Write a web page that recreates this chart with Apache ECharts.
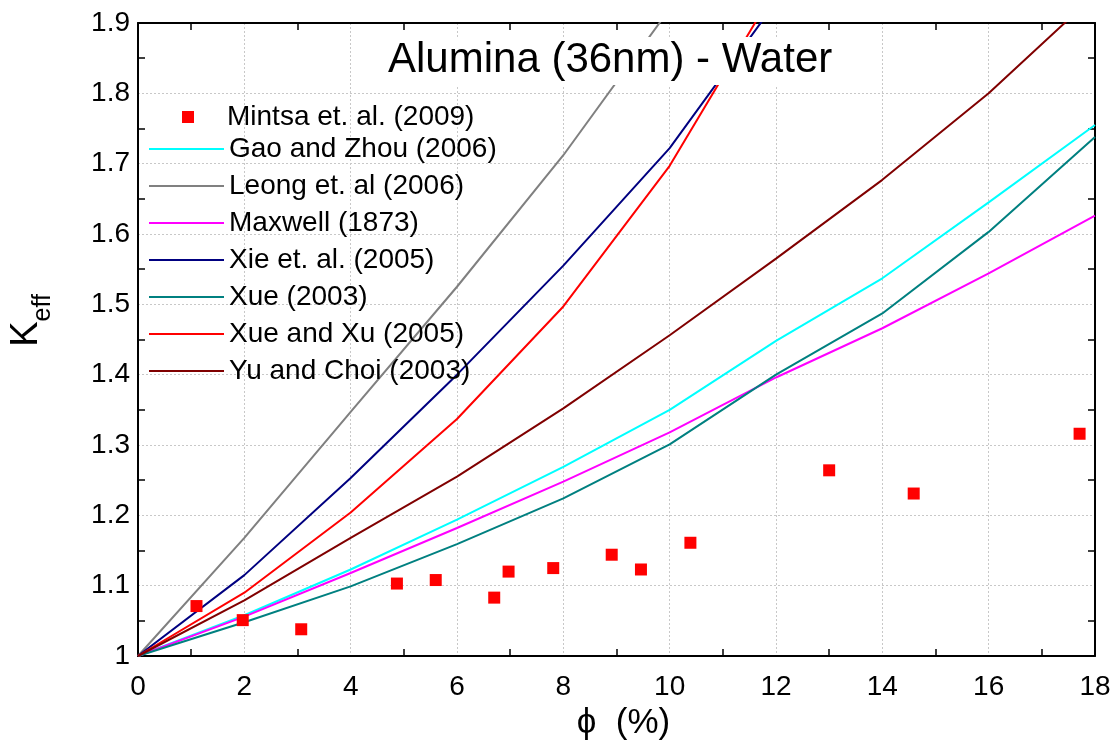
<!DOCTYPE html>
<html>

<head>
  <meta charset="utf-8">
  <title>Alumina (36nm) - Water</title>
  <script src="https://cdn.jsdelivr.net/npm/echarts@6/dist/echarts.min.js"></script>
</head>

<body style="margin:0">
  <div id="main" style="width:1120px;height:746px;"></div>
  <script type="text/javascript">
    var FONT = 'Liberation Sans, Arial, sans-serif';

    // volume fraction (%) where the model curves were evaluated
    var phi = [0, 2, 4, 6, 8, 10, 12, 14, 16, 18];

    var gaoZhou = [1, 1.058, 1.123, 1.194, 1.269, 1.35, 1.448, 1.537, 1.645, 1.755];
    var leong = [1, 1.168, 1.347, 1.525, 1.712, 1.92];
    var maxwell = [1, 1.056, 1.118, 1.182, 1.248, 1.318, 1.396, 1.466, 1.544, 1.626];
    var xie = [1, 1.115, 1.253, 1.40, 1.555, 1.722, 1.93];
    var xue = [1, 1.048, 1.099, 1.159, 1.224, 1.301, 1.40, 1.487, 1.603, 1.738];
    var xueXu = [1, 1.09, 1.204, 1.337, 1.497, 1.697, 1.95];
    var yuChoi = [1, 1.079, 1.168, 1.255, 1.352, 1.456, 1.565, 1.677, 1.80, 1.94];

    // Mintsa et al. measurements
    var mintsaPhi = [1.1, 1.97, 3.07, 4.87, 5.6, 6.7, 6.97, 7.81, 8.91, 9.46, 10.39, 13.0, 14.59, 17.71];
    var mintsaK = [1.071, 1.051, 1.038, 1.103, 1.108, 1.083, 1.12, 1.125, 1.144, 1.123, 1.161, 1.264, 1.231, 1.316];

    var models = [
      { name: 'Gao and Zhou (2006)', values: gaoZhou, color: '#00ffff' },
      { name: 'Leong et. al (2006)', values: leong, color: '#808080' },
      { name: 'Maxwell (1873)', values: maxwell, color: '#ff00ff' },
      { name: 'Xie et. al. (2005)', values: xie, color: '#000080' },
      { name: 'Xue (2003)', values: xue, color: '#008080' },
      { name: 'Xue and Xu (2005)', values: xueXu, color: '#ff0000' },
      { name: 'Yu and Choi (2003)', values: yuChoi, color: '#800000' }
    ];

    function pairs(xs, ys) {
      return ys.map(function (y, i) { return [xs[i], y]; });
    }

    var series = models.map(function (m) {
      return {
        name: m.name,
        type: 'line',
        data: pairs(phi, m.values),
        symbol: 'none',
        color: m.color,
        lineStyle: { width: 2, color: m.color }
      };
    });
    series.push({
      name: 'Mintsa et. al. (2009)',
      type: 'scatter',
      data: pairs(mintsaPhi, mintsaK),
      symbol: 'rect',
      symbolSize: 12,
      itemStyle: { color: '#ff0000', opacity: 1 },
      z: 3
    });

    var boxLine = { show: true, onZero: false, lineStyle: { color: '#000', width: 2 } };
    var minor = { show: true, splitNumber: 2, length: 7, lineStyle: { color: '#000', width: 1.5 } };
    var grid = { show: true, lineStyle: { color: '#c8c8c8', type: [2, 2], width: 1 } };

    var option = {
      animation: false,
      backgroundColor: '#fff',
      title: {
        text: 'Alumina (36nm) - Water',
        left: 382,
        top: 37,
        padding: [2, 6, 4, 6],
        backgroundColor: '#fff',
        textStyle: { fontSize: 42, fontWeight: 'normal', color: '#000', fontFamily: FONT }
      },
      legend: [
        {
          data: ['Mintsa et. al. (2009)'],
          left: 177,
          top: 98,
          icon: 'rect',
          itemWidth: 12,
          itemHeight: 12,
          itemStyle: { opacity: 1 },
          textStyle: { fontSize: 28, color: '#000', fontFamily: FONT, padding: [0, 0, 0, 28] }
        },
        {
          data: models.map(function (m) { return m.name; }),
          orient: 'vertical',
          left: 143,
          top: 130,
          itemWidth: 75,
          itemHeight: 14,
          itemGap: 9,
          itemStyle: { opacity: 0 },
          textStyle: { fontSize: 28, color: '#000', fontFamily: FONT }
        }
      ],
      grid: { left: 135, right: 25, top: 23, bottom: 85 },
      xAxis: [
        {
          type: 'value', min: 0, max: 18, interval: 2, position: 'bottom',
          axisLine: boxLine,
          axisTick: { show: false, inside: true },
          minorTick: minor,
          axisLabel: { fontSize: 28, color: '#000', margin: 17, fontFamily: FONT },
          splitLine: grid,
          name: 'ϕ  (%)',
          nameLocation: 'middle',
          nameGap: 50,
          nameTextStyle: { fontSize: 35, color: '#000', fontFamily: FONT, padding: [0, 0, 0, 14] }
        },
        {
          type: 'value', min: 0, max: 18, interval: 2, position: 'top',
          axisLine: boxLine,
          axisTick: { show: false, inside: true },
          minorTick: minor,
          axisLabel: { show: false },
          splitLine: { show: false }
        }
      ],
      yAxis: [
        {
          type: 'value', min: 1, max: 1.9, interval: 0.1, position: 'left',
          axisLine: boxLine,
          axisTick: { show: false, inside: true },
          minorTick: minor,
          axisLabel: { fontSize: 28, color: '#000', margin: 8, fontFamily: FONT },
          splitLine: grid,
          name: '{k|K}{s|eff}',
          nameLocation: 'middle',
          nameRotate: 90,
          nameGap: 82,
          nameTextStyle: {
            padding: [0, 0, 0, 38],
            rich: {
              k: { fontSize: 38, lineHeight: 48, verticalAlign: 'top', color: '#000', fontFamily: FONT },
              s: { fontSize: 25, lineHeight: 25, verticalAlign: 'bottom', color: '#000', fontFamily: FONT }
            }
          }
        },
        {
          type: 'value', min: 1, max: 1.9, interval: 0.1, position: 'right',
          axisLine: boxLine,
          axisTick: { show: false, inside: true },
          minorTick: minor,
          axisLabel: { show: false },
          splitLine: { show: false }
        }
      ],
      series: series
    };

    var myChart = echarts.init(document.getElementById('main'));
    myChart.setOption(option);
  </script>
</body>

</html>
